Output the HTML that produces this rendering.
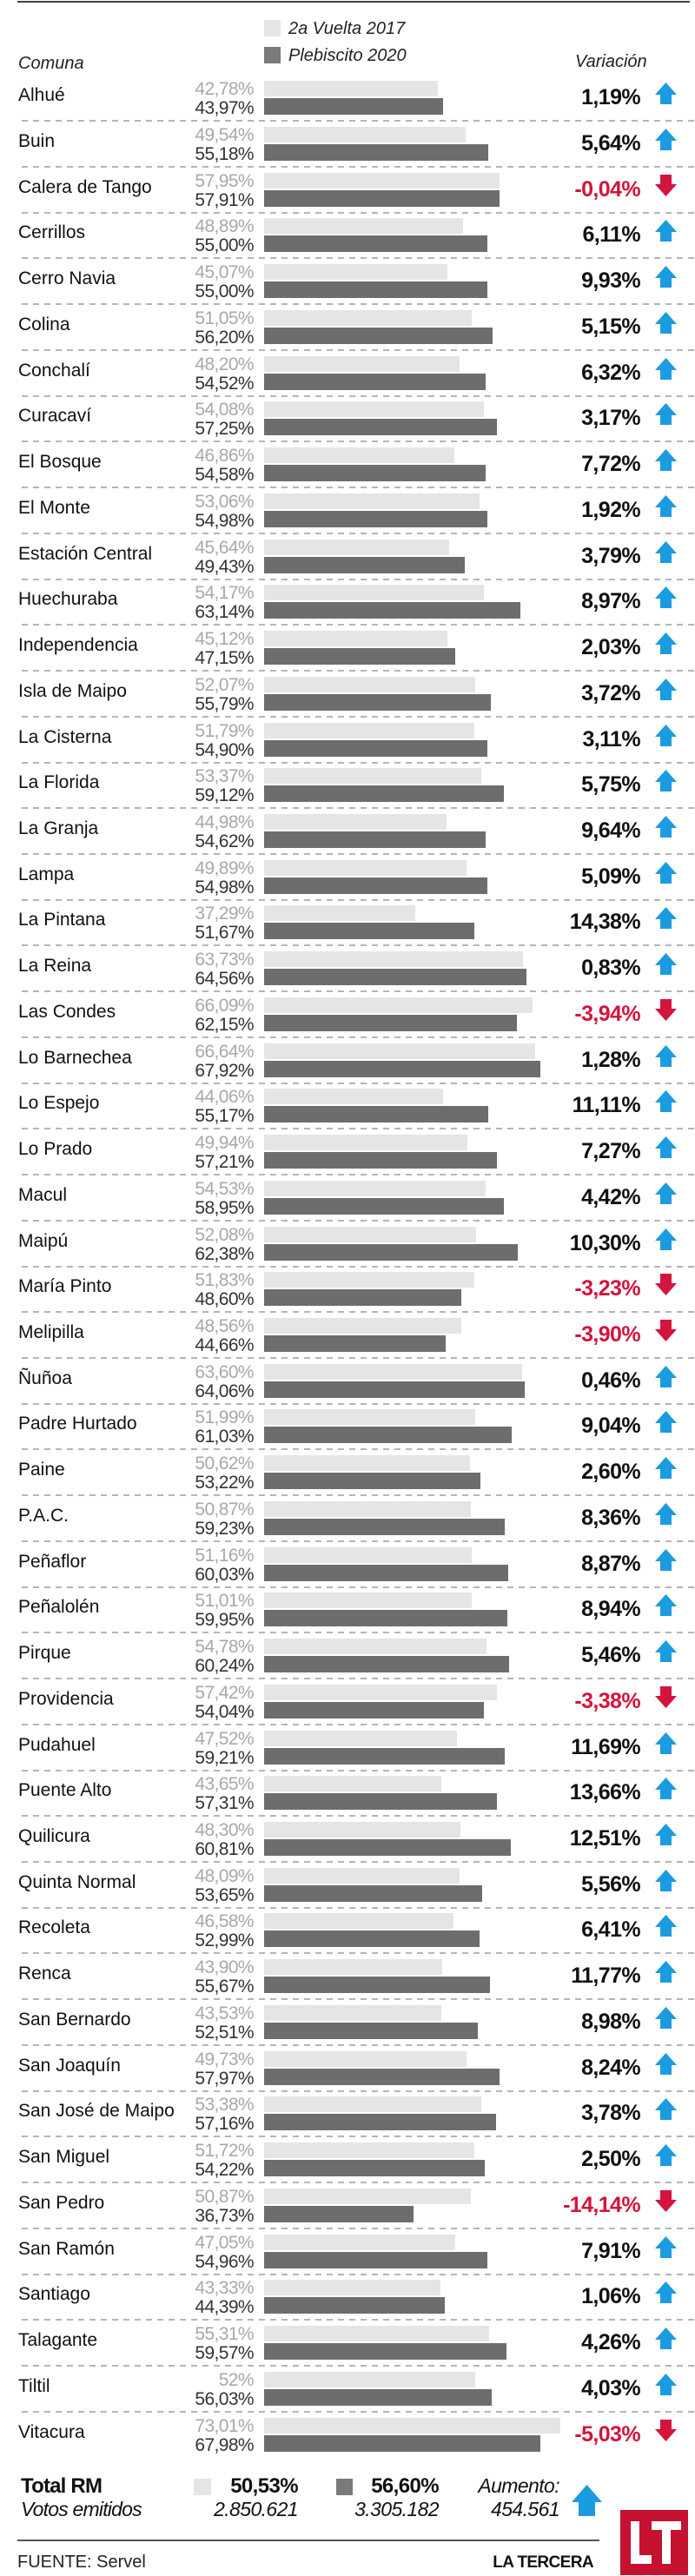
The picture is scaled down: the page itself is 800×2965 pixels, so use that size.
<!DOCTYPE html>
<html><head><meta charset="utf-8">
<style>
*{margin:0;padding:0;box-sizing:border-box}
body{width:800px;height:2965px;background:#fff;position:relative;overflow:hidden;font-family:"Liberation Sans",sans-serif;}
.r{position:absolute;left:0;width:800px;height:53px}
.n{position:absolute;left:21px;top:13px;font-size:21px;line-height:21px;color:#111;white-space:nowrap}
.a{position:absolute;right:508px;top:6px;font-size:21px;line-height:21px;color:#a8a8a8;letter-spacing:-0.6px}
.b{position:absolute;right:508px;top:28px;font-size:21px;line-height:21px;color:#333;letter-spacing:-0.6px}
.l{position:absolute;left:304px;top:6.5px;height:18.5px;background:#e5e5e5}
.k{position:absolute;left:304px;top:27px;height:19px;background:#6d6d6d}
.v{position:absolute;right:63px;top:14px;font-size:25px;line-height:25px;font-weight:bold;color:#111;letter-spacing:-0.6px}
.v.neg{color:#d3143c}
.ar{position:absolute;left:754px;top:9px;width:25px;height:25px}
.d{position:absolute;left:25px;right:0;top:52px;height:1.5px;background:repeating-linear-gradient(90deg,#b5b5b5 0 7px,transparent 7px 13px)}
.t{position:absolute;white-space:nowrap}
</style></head><body>
<svg width="0" height="0" style="position:absolute"><defs>
<polygon id="up" points="12.5,0 25,14 19,14 19,25 6,25 6,14 0,14" fill="#1b9be0"/>
<polygon id="dn" points="12.5,25 25,11 19,11 19,0 6,0 6,11 0,11" fill="#d3143c"/>
</defs></svg>
<div class="t" style="left:20px;top:1px;width:774px;height:2px;background:#444"></div>
<div class="t" style="left:304px;top:23px;width:19px;height:19px;background:#e5e5e5"></div>
<div class="t" style="left:332px;top:22px;font-size:20px;font-style:italic;color:#222">2a Vuelta 2017</div>
<div class="t" style="left:304px;top:54px;width:19px;height:19px;background:#7a7a7a"></div>
<div class="t" style="left:332px;top:53px;font-size:20px;font-style:italic;color:#222">Plebiscito 2020</div>
<div class="t" style="left:21px;top:62px;font-size:20px;font-style:italic;color:#222">Comuna</div>
<div class="t" style="left:662px;top:60px;font-size:20px;font-style:italic;color:#222">Variación</div>

<div class="r" style="top:86px"><div class="n">Alhué</div><div class="a">42,78%</div><div class="b">43,97%</div><div class="l" style="width:200px"></div><div class="k" style="width:205.6px"></div><div class="v">1,19%</div><svg class="ar"><use href="#up"/></svg><div class="d"></div></div>
<div class="r" style="top:139px"><div class="n">Buin</div><div class="a">49,54%</div><div class="b">55,18%</div><div class="l" style="width:231.6px"></div><div class="k" style="width:258px"></div><div class="v">5,64%</div><svg class="ar"><use href="#up"/></svg><div class="d"></div></div>
<div class="r" style="top:192px"><div class="n">Calera de Tango</div><div class="a">57,95%</div><div class="b">57,91%</div><div class="l" style="width:270.9px"></div><div class="k" style="width:270.7px"></div><div class="v neg">-0,04%</div><svg class="ar"><use href="#dn"/></svg><div class="d"></div></div>
<div class="r" style="top:244px"><div class="n">Cerrillos</div><div class="a">48,89%</div><div class="b">55,00%</div><div class="l" style="width:228.6px"></div><div class="k" style="width:257.1px"></div><div class="v">6,11%</div><svg class="ar"><use href="#up"/></svg><div class="d"></div></div>
<div class="r" style="top:297px"><div class="n">Cerro Navia</div><div class="a">45,07%</div><div class="b">55,00%</div><div class="l" style="width:210.7px"></div><div class="k" style="width:257.1px"></div><div class="v">9,93%</div><svg class="ar"><use href="#up"/></svg><div class="d"></div></div>
<div class="r" style="top:350px"><div class="n">Colina</div><div class="a">51,05%</div><div class="b">56,20%</div><div class="l" style="width:238.7px"></div><div class="k" style="width:262.7px"></div><div class="v">5,15%</div><svg class="ar"><use href="#up"/></svg><div class="d"></div></div>
<div class="r" style="top:403px"><div class="n">Conchalí</div><div class="a">48,20%</div><div class="b">54,52%</div><div class="l" style="width:225.3px"></div><div class="k" style="width:254.9px"></div><div class="v">6,32%</div><svg class="ar"><use href="#up"/></svg><div class="d"></div></div>
<div class="r" style="top:455px"><div class="n">Curacaví</div><div class="a">54,08%</div><div class="b">57,25%</div><div class="l" style="width:252.8px"></div><div class="k" style="width:267.6px"></div><div class="v">3,17%</div><svg class="ar"><use href="#up"/></svg><div class="d"></div></div>
<div class="r" style="top:508px"><div class="n">El Bosque</div><div class="a">46,86%</div><div class="b">54,58%</div><div class="l" style="width:219.1px"></div><div class="k" style="width:255.2px"></div><div class="v">7,72%</div><svg class="ar"><use href="#up"/></svg><div class="d"></div></div>
<div class="r" style="top:561px"><div class="n">El Monte</div><div class="a">53,06%</div><div class="b">54,98%</div><div class="l" style="width:248.1px"></div><div class="k" style="width:257px"></div><div class="v">1,92%</div><svg class="ar"><use href="#up"/></svg><div class="d"></div></div>
<div class="r" style="top:614px"><div class="n">Estación Central</div><div class="a">45,64%</div><div class="b">49,43%</div><div class="l" style="width:213.4px"></div><div class="k" style="width:231.1px"></div><div class="v">3,79%</div><svg class="ar"><use href="#up"/></svg><div class="d"></div></div>
<div class="r" style="top:666px"><div class="n">Huechuraba</div><div class="a">54,17%</div><div class="b">63,14%</div><div class="l" style="width:253.2px"></div><div class="k" style="width:295.2px"></div><div class="v">8,97%</div><svg class="ar"><use href="#up"/></svg><div class="d"></div></div>
<div class="r" style="top:719px"><div class="n">Independencia</div><div class="a">45,12%</div><div class="b">47,15%</div><div class="l" style="width:210.9px"></div><div class="k" style="width:220.4px"></div><div class="v">2,03%</div><svg class="ar"><use href="#up"/></svg><div class="d"></div></div>
<div class="r" style="top:772px"><div class="n">Isla de Maipo</div><div class="a">52,07%</div><div class="b">55,79%</div><div class="l" style="width:243.4px"></div><div class="k" style="width:260.8px"></div><div class="v">3,72%</div><svg class="ar"><use href="#up"/></svg><div class="d"></div></div>
<div class="r" style="top:825px"><div class="n">La Cisterna</div><div class="a">51,79%</div><div class="b">54,90%</div><div class="l" style="width:242.1px"></div><div class="k" style="width:256.7px"></div><div class="v">3,11%</div><svg class="ar"><use href="#up"/></svg><div class="d"></div></div>
<div class="r" style="top:877px"><div class="n">La Florida</div><div class="a">53,37%</div><div class="b">59,12%</div><div class="l" style="width:249.5px"></div><div class="k" style="width:276.4px"></div><div class="v">5,75%</div><svg class="ar"><use href="#up"/></svg><div class="d"></div></div>
<div class="r" style="top:930px"><div class="n">La Granja</div><div class="a">44,98%</div><div class="b">54,62%</div><div class="l" style="width:210.3px"></div><div class="k" style="width:255.4px"></div><div class="v">9,64%</div><svg class="ar"><use href="#up"/></svg><div class="d"></div></div>
<div class="r" style="top:983px"><div class="n">Lampa</div><div class="a">49,89%</div><div class="b">54,98%</div><div class="l" style="width:233.2px"></div><div class="k" style="width:257px"></div><div class="v">5,09%</div><svg class="ar"><use href="#up"/></svg><div class="d"></div></div>
<div class="r" style="top:1035px"><div class="n">La Pintana</div><div class="a">37,29%</div><div class="b">51,67%</div><div class="l" style="width:174.3px"></div><div class="k" style="width:241.6px"></div><div class="v">14,38%</div><svg class="ar"><use href="#up"/></svg><div class="d"></div></div>
<div class="r" style="top:1088px"><div class="n">La Reina</div><div class="a">63,73%</div><div class="b">64,56%</div><div class="l" style="width:297.9px"></div><div class="k" style="width:301.8px"></div><div class="v">0,83%</div><svg class="ar"><use href="#up"/></svg><div class="d"></div></div>
<div class="r" style="top:1141px"><div class="n">Las Condes</div><div class="a">66,09%</div><div class="b">62,15%</div><div class="l" style="width:309px"></div><div class="k" style="width:290.6px"></div><div class="v neg">-3,94%</div><svg class="ar"><use href="#dn"/></svg><div class="d"></div></div>
<div class="r" style="top:1194px"><div class="n">Lo Barnechea</div><div class="a">66,64%</div><div class="b">67,92%</div><div class="l" style="width:311.5px"></div><div class="k" style="width:317.5px"></div><div class="v">1,28%</div><svg class="ar"><use href="#up"/></svg><div class="d"></div></div>
<div class="r" style="top:1246px"><div class="n">Lo Espejo</div><div class="a">44,06%</div><div class="b">55,17%</div><div class="l" style="width:206px"></div><div class="k" style="width:257.9px"></div><div class="v">11,11%</div><svg class="ar"><use href="#up"/></svg><div class="d"></div></div>
<div class="r" style="top:1299px"><div class="n">Lo Prado</div><div class="a">49,94%</div><div class="b">57,21%</div><div class="l" style="width:233.5px"></div><div class="k" style="width:267.5px"></div><div class="v">7,27%</div><svg class="ar"><use href="#up"/></svg><div class="d"></div></div>
<div class="r" style="top:1352px"><div class="n">Macul</div><div class="a">54,53%</div><div class="b">58,95%</div><div class="l" style="width:254.9px"></div><div class="k" style="width:275.6px"></div><div class="v">4,42%</div><svg class="ar"><use href="#up"/></svg><div class="d"></div></div>
<div class="r" style="top:1405px"><div class="n">Maipú</div><div class="a">52,08%</div><div class="b">62,38%</div><div class="l" style="width:243.5px"></div><div class="k" style="width:291.6px"></div><div class="v">10,30%</div><svg class="ar"><use href="#up"/></svg><div class="d"></div></div>
<div class="r" style="top:1457px"><div class="n">María Pinto</div><div class="a">51,83%</div><div class="b">48,60%</div><div class="l" style="width:242.3px"></div><div class="k" style="width:227.2px"></div><div class="v neg">-3,23%</div><svg class="ar"><use href="#dn"/></svg><div class="d"></div></div>
<div class="r" style="top:1510px"><div class="n">Melipilla</div><div class="a">48,56%</div><div class="b">44,66%</div><div class="l" style="width:227px"></div><div class="k" style="width:208.8px"></div><div class="v neg">-3,90%</div><svg class="ar"><use href="#dn"/></svg><div class="d"></div></div>
<div class="r" style="top:1563px"><div class="n">Ñuñoa</div><div class="a">63,60%</div><div class="b">64,06%</div><div class="l" style="width:297.3px"></div><div class="k" style="width:299.5px"></div><div class="v">0,46%</div><svg class="ar"><use href="#up"/></svg><div class="d"></div></div>
<div class="r" style="top:1615px"><div class="n">Padre Hurtado</div><div class="a">51,99%</div><div class="b">61,03%</div><div class="l" style="width:243px"></div><div class="k" style="width:285.3px"></div><div class="v">9,04%</div><svg class="ar"><use href="#up"/></svg><div class="d"></div></div>
<div class="r" style="top:1668px"><div class="n">Paine</div><div class="a">50,62%</div><div class="b">53,22%</div><div class="l" style="width:236.6px"></div><div class="k" style="width:248.8px"></div><div class="v">2,60%</div><svg class="ar"><use href="#up"/></svg><div class="d"></div></div>
<div class="r" style="top:1721px"><div class="n">P.A.C.</div><div class="a">50,87%</div><div class="b">59,23%</div><div class="l" style="width:237.8px"></div><div class="k" style="width:276.9px"></div><div class="v">8,36%</div><svg class="ar"><use href="#up"/></svg><div class="d"></div></div>
<div class="r" style="top:1774px"><div class="n">Peñaflor</div><div class="a">51,16%</div><div class="b">60,03%</div><div class="l" style="width:239.2px"></div><div class="k" style="width:280.6px"></div><div class="v">8,87%</div><svg class="ar"><use href="#up"/></svg><div class="d"></div></div>
<div class="r" style="top:1826px"><div class="n">Peñalolén</div><div class="a">51,01%</div><div class="b">59,95%</div><div class="l" style="width:238.5px"></div><div class="k" style="width:280.3px"></div><div class="v">8,94%</div><svg class="ar"><use href="#up"/></svg><div class="d"></div></div>
<div class="r" style="top:1879px"><div class="n">Pirque</div><div class="a">54,78%</div><div class="b">60,24%</div><div class="l" style="width:256.1px"></div><div class="k" style="width:281.6px"></div><div class="v">5,46%</div><svg class="ar"><use href="#up"/></svg><div class="d"></div></div>
<div class="r" style="top:1932px"><div class="n">Providencia</div><div class="a">57,42%</div><div class="b">54,04%</div><div class="l" style="width:268.4px"></div><div class="k" style="width:252.6px"></div><div class="v neg">-3,38%</div><svg class="ar"><use href="#dn"/></svg><div class="d"></div></div>
<div class="r" style="top:1985px"><div class="n">Pudahuel</div><div class="a">47,52%</div><div class="b">59,21%</div><div class="l" style="width:222.2px"></div><div class="k" style="width:276.8px"></div><div class="v">11,69%</div><svg class="ar"><use href="#up"/></svg><div class="d"></div></div>
<div class="r" style="top:2037px"><div class="n">Puente Alto</div><div class="a">43,65%</div><div class="b">57,31%</div><div class="l" style="width:204.1px"></div><div class="k" style="width:267.9px"></div><div class="v">13,66%</div><svg class="ar"><use href="#up"/></svg><div class="d"></div></div>
<div class="r" style="top:2090px"><div class="n">Quilicura</div><div class="a">48,30%</div><div class="b">60,81%</div><div class="l" style="width:225.8px"></div><div class="k" style="width:284.3px"></div><div class="v">12,51%</div><svg class="ar"><use href="#up"/></svg><div class="d"></div></div>
<div class="r" style="top:2143px"><div class="n">Quinta Normal</div><div class="a">48,09%</div><div class="b">53,65%</div><div class="l" style="width:224.8px"></div><div class="k" style="width:250.8px"></div><div class="v">5,56%</div><svg class="ar"><use href="#up"/></svg><div class="d"></div></div>
<div class="r" style="top:2195px"><div class="n">Recoleta</div><div class="a">46,58%</div><div class="b">52,99%</div><div class="l" style="width:217.8px"></div><div class="k" style="width:247.7px"></div><div class="v">6,41%</div><svg class="ar"><use href="#up"/></svg><div class="d"></div></div>
<div class="r" style="top:2248px"><div class="n">Renca</div><div class="a">43,90%</div><div class="b">55,67%</div><div class="l" style="width:205.2px"></div><div class="k" style="width:260.3px"></div><div class="v">11,77%</div><svg class="ar"><use href="#up"/></svg><div class="d"></div></div>
<div class="r" style="top:2301px"><div class="n">San Bernardo</div><div class="a">43,53%</div><div class="b">52,51%</div><div class="l" style="width:203.5px"></div><div class="k" style="width:245.5px"></div><div class="v">8,98%</div><svg class="ar"><use href="#up"/></svg><div class="d"></div></div>
<div class="r" style="top:2354px"><div class="n">San Joaquín</div><div class="a">49,73%</div><div class="b">57,97%</div><div class="l" style="width:232.5px"></div><div class="k" style="width:271px"></div><div class="v">8,24%</div><svg class="ar"><use href="#up"/></svg><div class="d"></div></div>
<div class="r" style="top:2406px"><div class="n">San José de Maipo</div><div class="a">53,38%</div><div class="b">57,16%</div><div class="l" style="width:249.6px"></div><div class="k" style="width:267.2px"></div><div class="v">3,78%</div><svg class="ar"><use href="#up"/></svg><div class="d"></div></div>
<div class="r" style="top:2459px"><div class="n">San Miguel</div><div class="a">51,72%</div><div class="b">54,22%</div><div class="l" style="width:241.8px"></div><div class="k" style="width:253.5px"></div><div class="v">2,50%</div><svg class="ar"><use href="#up"/></svg><div class="d"></div></div>
<div class="r" style="top:2512px"><div class="n">San Pedro</div><div class="a">50,87%</div><div class="b">36,73%</div><div class="l" style="width:237.8px"></div><div class="k" style="width:171.7px"></div><div class="v neg">-14,14%</div><svg class="ar"><use href="#dn"/></svg><div class="d"></div></div>
<div class="r" style="top:2565px"><div class="n">San Ramón</div><div class="a">47,05%</div><div class="b">54,96%</div><div class="l" style="width:220px"></div><div class="k" style="width:256.9px"></div><div class="v">7,91%</div><svg class="ar"><use href="#up"/></svg><div class="d"></div></div>
<div class="r" style="top:2617px"><div class="n">Santiago</div><div class="a">43,33%</div><div class="b">44,39%</div><div class="l" style="width:202.6px"></div><div class="k" style="width:207.5px"></div><div class="v">1,06%</div><svg class="ar"><use href="#up"/></svg><div class="d"></div></div>
<div class="r" style="top:2670px"><div class="n">Talagante</div><div class="a">55,31%</div><div class="b">59,57%</div><div class="l" style="width:258.6px"></div><div class="k" style="width:278.5px"></div><div class="v">4,26%</div><svg class="ar"><use href="#up"/></svg><div class="d"></div></div>
<div class="r" style="top:2723px"><div class="n">Tiltil</div><div class="a">52%</div><div class="b">56,03%</div><div class="l" style="width:243.1px"></div><div class="k" style="width:261.9px"></div><div class="v">4,03%</div><svg class="ar"><use href="#up"/></svg><div class="d"></div></div>
<div class="r" style="top:2776px"><div class="n">Vitacura</div><div class="a">73,01%</div><div class="b">67,98%</div><div class="l" style="width:341.3px"></div><div class="k" style="width:317.8px"></div><div class="v neg">-5,03%</div><svg class="ar"><use href="#dn"/></svg></div>

<div class="t" style="left:24px;top:2850px;font-size:24px;line-height:24px;font-weight:bold;color:#111;letter-spacing:-0.8px">Total RM</div>
<div class="t" style="left:24px;top:2877px;font-size:23px;line-height:23px;font-style:italic;color:#111;letter-spacing:-0.8px">Votos emitidos</div>
<div class="t" style="left:223px;top:2853px;width:20px;height:19px;background:#e5e5e5"></div>
<div class="t" style="right:457px;top:2850px;font-size:24px;line-height:24px;font-weight:bold;color:#111;letter-spacing:-0.6px">50,53%</div>
<div class="t" style="right:457px;top:2877px;font-size:23px;line-height:23px;font-style:italic;color:#111;letter-spacing:-0.6px">2.850.621</div>
<div class="t" style="left:387px;top:2853px;width:19px;height:19px;background:#7a7a7a"></div>
<div class="t" style="right:295px;top:2850px;font-size:24px;line-height:24px;font-weight:bold;color:#111;letter-spacing:-0.6px">56,60%</div>
<div class="t" style="right:295px;top:2877px;font-size:23px;line-height:23px;font-style:italic;color:#111;letter-spacing:-0.6px">3.305.182</div>
<div class="t" style="right:156px;top:2850px;font-size:23px;line-height:23px;font-style:italic;color:#111;letter-spacing:-0.6px">Aumento:</div>
<div class="t" style="right:156px;top:2877px;font-size:23px;line-height:23px;font-style:italic;color:#111;letter-spacing:-0.6px">454.561</div>
<svg class="t" style="left:658px;top:2860px" width="35" height="36"><polygon points="17.5,0 35,20 27,20 27,36 8,36 8,20 0,20" fill="#1b9be0"/></svg>
<div class="t" style="left:20px;top:2923px;width:670px;height:2px;background:#555"></div>
<div class="t" style="left:20px;top:2939px;font-size:20px;line-height:20px;color:#222">FUENTE: Servel</div>
<div class="t" style="right:117px;top:2940px;font-size:19px;line-height:19px;font-weight:bold;color:#111;letter-spacing:-0.6px">LA TERCERA</div>
<div class="t" style="left:714px;top:2889px;width:78px;height:75px;background:#c41230"></div>
<div class="t" style="left:726px;top:2902px;width:10px;height:49px;background:#fff"></div>
<div class="t" style="left:726px;top:2941px;width:24px;height:10px;background:#fff"></div>
<div class="t" style="left:750px;top:2902px;width:34px;height:10px;background:#fff"></div>
<div class="t" style="left:762px;top:2902px;width:10px;height:49px;background:#fff"></div>
</body></html>
